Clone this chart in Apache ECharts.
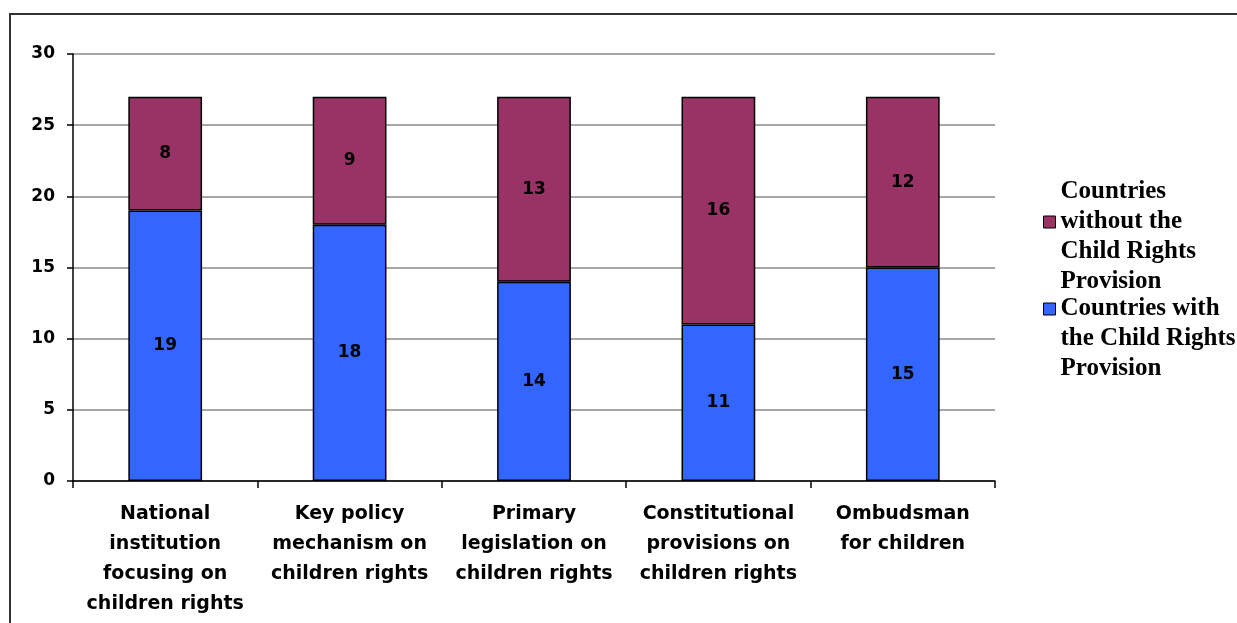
<!DOCTYPE html>
<html>
<head>
<meta charset="utf-8">
<script src="https://cdn.jsdelivr.net/npm/echarts@6/dist/echarts.min.js"></script>
<style>html,body{margin:0;padding:0;background:#fff}#c{width:1237px;height:623px}</style>
</head>
<body>
<div id="c"></div>
<script>
const categories = [
  'National\ninstitution\nfocusing on\nchildren rights',
  'Key policy\nmechanism on\nchildren rights',
  'Primary\nlegislation on\nchildren rights',
  'Constitutional\nprovisions on\nchildren rights',
  'Ombudsman\nfor children'
];
const withProvision = [19, 18, 14, 11, 15];
const withoutProvision = [8, 9, 13, 16, 12];
const seriesNames = ['Countries with the Child Rights Provision', 'Countries without the Child Rights Provision'];
// leading blank lines keep the legend marker level with the right line of text
const legendText = {
  'Countries with the Child Rights Provision': ' \n \nCountries with\nthe Child Rights\nProvision',
  'Countries without the Child Rights Provision': ' \nCountries\nwithout the\nChild Rights\nProvision'
};

const chart = echarts.init(document.getElementById('c'));
const sansBold = {fontFamily: 'DejaVu Sans, Verdana, sans-serif', fontWeight: 'bold', color: '#000'};
const labelStyle = Object.assign({show: true, position: 'inside', fontSize: 17}, sansBold);
chart.setOption({
  animation: false,
  graphic: [{type: 'rect', shape: {x: 10, y: 14, width: 1300, height: 700}, style: {fill: 'none', stroke: '#333', lineWidth: 2}, silent: true}],
  grid: {left: 73, right: 242, top: 54, bottom: 142},
  legend: {
    orient: 'vertical', left: 1043, top: 147, padding: 0,
    data: [seriesNames[1], seriesNames[0]],
    icon: 'rect',
    itemWidth: 12, itemHeight: 12, itemGap: -63,
    formatter: n => legendText[n],
    textStyle: {fontFamily: 'Liberation Serif, Times New Roman, serif', fontWeight: 'bold', fontSize: 25, lineHeight: 30, color: '#000'},
    itemStyle: {borderColor: '#000', borderWidth: 1}
  },
  xAxis: {
    type: 'category', data: categories,
    axisLine: {lineStyle: {color: '#000', width: 1.5}},
    axisTick: {show: true, alignWithLabel: false, length: 7, lineStyle: {color: '#000', width: 1.5}},
    axisLabel: Object.assign({interval: 0, margin: 18, fontSize: 19, lineHeight: 30}, sansBold)
  },
  yAxis: {
    type: 'value', min: 0, max: 30, interval: 5,
    axisLine: {show: true, lineStyle: {color: '#000', width: 1.5}},
    axisTick: {show: true, length: 6, lineStyle: {color: '#000', width: 1.5}},
    axisLabel: Object.assign({margin: 18, fontSize: 17}, sansBold),
    splitLine: {lineStyle: {color: '#8a8a8a', width: 1.5}}
  },
  series: [
    {name: seriesNames[0], type: 'bar', stack: 's', data: withProvision, barWidth: '40%',
      itemStyle: {color: '#3366FF', borderColor: '#000', borderWidth: 1.5}, label: labelStyle},
    {name: seriesNames[1], type: 'bar', stack: 's', data: withoutProvision, barWidth: '40%',
      itemStyle: {color: '#993366', borderColor: '#000', borderWidth: 1.5}, label: labelStyle}
  ]
});
</script>
</body>
</html>
